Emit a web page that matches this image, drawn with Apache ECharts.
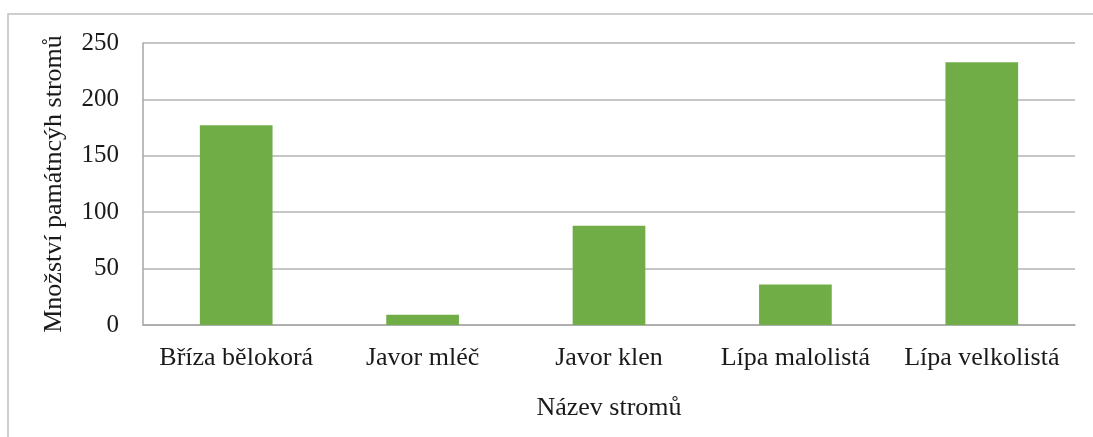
<!DOCTYPE html>
<html>
<head>
<meta charset="utf-8">
<script src="https://cdn.jsdelivr.net/npm/echarts@6/dist/echarts.min.js"></script>
<style>
  html, body { margin: 0; padding: 0; background: #fff; }
  #chart { width: 1093px; height: 437px; }
</style>
</head>
<body>
<div id="chart"></div>
<script>
// data
const categories = ['Bříza bělokorá', 'Javor mléč', 'Javor klen', 'Lípa malolistá', 'Lípa velkolistá'];
const counts = [177, 9, 88, 36, 233];
const yTicks = [0, 50, 100, 150, 200, 250];

const font = '"Liberation Serif", "Times New Roman", serif';
const chart = echarts.init(document.getElementById('chart'));

const option = {
  backgroundColor: '#fff',
  animation: false,
  graphic: [
    {
      // chart frame (only left and top edges visible)
      type: 'rect',
      shape: { x: 8, y: 14, width: 1200, height: 600 },
      style: { fill: 'none', stroke: '#bfbfbf', lineWidth: 1.5 },
      silent: true
    }
  ],
  grid: { left: 143, right: 18, top: 43, bottom: 112 },
  xAxis: {
    type: 'category',
    data: categories,
    name: 'Název stromů',
    nameLocation: 'middle',
    nameGap: 70,
    nameTextStyle: { fontFamily: font, fontSize: 26, color: '#1a1a1a' },
    axisLine: { lineStyle: { color: '#a6a6a6', width: 1.5 } },
    axisTick: { show: false },
    axisLabel: { interval: 0, fontFamily: font, fontSize: 26, color: '#1a1a1a', margin: 20 }
  },
  yAxis: {
    type: 'value',
    min: yTicks[0],
    max: yTicks[yTicks.length - 1],
    interval: yTicks[1] - yTicks[0],
    name: 'Množství památncýh stromů',
    nameLocation: 'middle',
    nameGap: 76,
    nameTextStyle: { fontFamily: font, fontSize: 26, color: '#1a1a1a' },
    axisLine: { show: true, lineStyle: { color: '#a6a6a6', width: 1.5 } },
    axisTick: { show: false },
    axisLabel: { fontFamily: font, fontSize: 25, color: '#1a1a1a', margin: 24 },
    splitLine: { lineStyle: { color: '#b3b3b3', width: 1.5 } }
  },
  series: [
    {
      type: 'bar',
      data: counts,
      barWidth: '39%',
      itemStyle: { color: '#70ad47' }
    }
  ]
};

chart.setOption(option);
</script>
</body>
</html>
